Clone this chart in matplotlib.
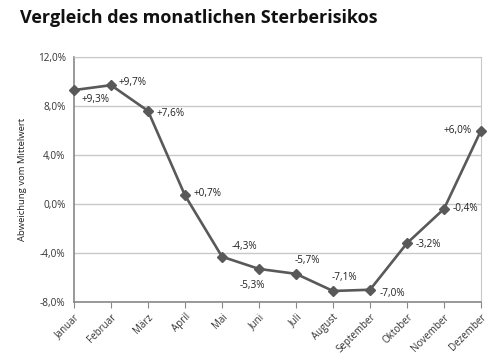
import matplotlib
matplotlib.use("Agg")
import matplotlib.pyplot as plt
from matplotlib.ticker import FuncFormatter

months = ["Januar", "Februar", "März", "April", "Mai", "Juni", "Juli",
          "August", "September", "Oktober", "November", "Dezember"]
values = [9.3, 9.7, 7.6, 0.7, -4.3, -5.3, -5.7, -7.1, -7.0, -3.2, -0.4, 6.0]
y_ticks = [-8, -4, 0, 4, 8, 12]

# label placement (offset in pixels, horizontal alignment)
label_pos = [((8, -9), "left"), ((8, 3), "left"), ((9, -3), "left"),
             ((9, 2), "left"), ((10, 10), "left"), ((-7, -17), "center"),
             ((11, 13), "center"), ((11, 13), "center"), ((10, -4), "left"),
             ((9, -1), "left"), ((9, 0), "left"), ((-9, 0), "right")]

plt.rcParams['font.family'] = ['Open Sans', 'DejaVu Sans']

fig = plt.figure(figsize=(5.03, 3.6), dpi=100)
ax = fig.add_axes([74/503, 58/360, (481-74)/503, (302-57)/360])

x = list(range(len(months)))
ax.plot(x, values, color="#595959", lw=1.9, marker="D", ms=5.5,
        mfc="#595959", mec="#595959", zorder=3, clip_on=False)

def fmt(v):
    return f"{v:+.1f}%".replace(".", ",")

for xi, v, ((dx, dy), ha) in zip(x, values, label_pos):
    ax.annotate(fmt(v), (xi, v), xytext=(dx, dy), textcoords="offset pixels",
                ha=ha, va="center", fontsize=7.2, color="#222222")

ax.set_xlim(0, 11)
ax.set_ylim(-8, 12)
ax.set_yticks(y_ticks)
ax.yaxis.set_major_formatter(FuncFormatter(lambda v, p: f"{v:.1f}%".replace(".", ",")))
ax.set_xticks(x)
ax.set_xticklabels(months, rotation=45, ha="right", rotation_mode="anchor")
ax.tick_params(axis="x", labelsize=7, colors="#333333", length=4, direction="out", pad=3, color="#888888")
ax.tick_params(axis="y", labelsize=7.2, colors="#333333", length=0, pad=6)
ax.grid(axis="y", color="#c8c8c8", lw=1)
ax.set_axisbelow(True)
for side in ["top", "right"]:
    ax.spines[side].set_color("#c8c8c8")
ax.spines["left"].set_color("#888888")
ax.spines["bottom"].set_color("#888888")
ax.spines["left"].set_linewidth(1.2)
ax.spines["bottom"].set_linewidth(1.2)

ax.set_ylabel("Abweichung vom Mittelwert", fontsize=6.8, color="#222222", labelpad=8)

fig.text(20/503, 1 - 18/360, "Vergleich des monatlichen Sterberisikos",
         fontsize=13, fontweight="bold", ha="left", va="center", color="#111111")

fig.savefig("out.png", dpi=100, facecolor="white")
